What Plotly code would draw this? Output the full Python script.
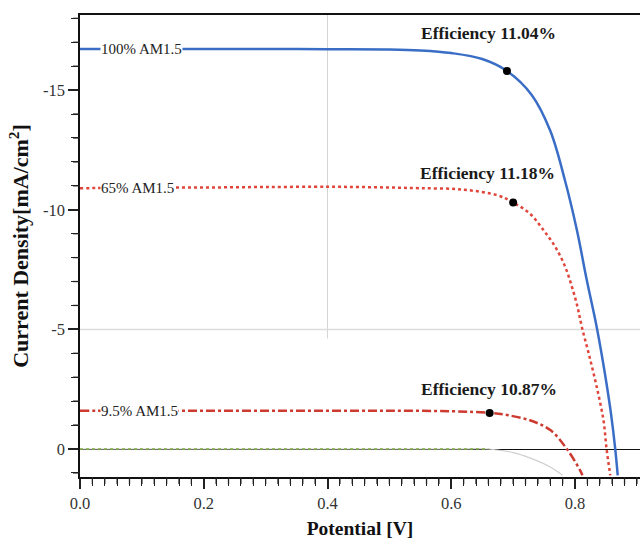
import plotly.graph_objects as go
import numpy as np

# ---- data ----
v100 = [0.0, 0.1, 0.2, 0.3, 0.4, 0.5, 0.55, 0.6, 0.65, 0.69, 0.73, 0.76, 0.784, 0.803, 0.819, 0.835, 0.848, 0.858, 0.865, 0.869]
j100 = [-16.72, -16.72, -16.72, -16.72, -16.71, -16.7, -16.66, -16.55, -16.3, -15.8, -14.8, -13.3, -11.2, -9.15, -7.06, -5.1, -3.2, -1.5, 0.0, 1.1]

v65 = [0.0, 0.1, 0.2, 0.3, 0.4, 0.45, 0.5, 0.55, 0.616, 0.675, 0.70, 0.727, 0.749, 0.768, 0.784, 0.795, 0.804, 0.811, 0.822, 0.835, 0.846, 0.851, 0.857]
j65 = [-10.9, -10.92, -10.93, -10.95, -10.96, -10.95, -10.93, -10.9, -10.85, -10.6, -10.3, -9.84, -9.15, -8.45, -7.62, -6.78, -5.94, -5.1, -4.0, -2.6, -1.2, 0.0, 1.1]

v95 = [0.0, 0.1, 0.2, 0.3, 0.4, 0.5, 0.6, 0.662, 0.69, 0.727, 0.76, 0.786, 0.808, 0.812]
j95 = [-1.6, -1.6, -1.6, -1.6, -1.6, -1.6, -1.58, -1.51, -1.42, -1.2, -0.79, -0.03, 0.88, 1.1]

v_dark = [0.0, 0.2, 0.4, 0.6, 0.66, 0.70, 0.73, 0.76, 0.78]
j_dark = [0.0, 0.0, 0.0, 0.0, 0.0, 0.15, 0.4, 0.75, 1.1]

curve_labels = ["100% AM1.5", "65% AM1.5", "9.5% AM1.5"]
mpp_v = [0.69, 0.70, 0.662]
mpp_j = [-15.8, -10.3, -1.51]
efficiency = ["Efficiency 11.04%", "Efficiency 11.18%", "Efficiency 10.87%"]

x_ticks = [0.0, 0.2, 0.4, 0.6, 0.8]
x_ticktext = ["0.0", "0.2", "0.4", "0.6", "0.8"]
y_ticks = [-15, -10, -5, 0]
y_ticktext = ["-15", "-10", "-5", "0"]

SERIF = "Liberation Serif, Times New Roman, serif"
X_RANGE = [0, 0.905]
Y_RANGE = [1.17, -18.14]

W, H = 640, 540
ML, MR, MT, MB = 80, 0, 15, 63
PW, PH = W - ML - MR, H - MT - MB

fig = go.Figure()

# dark current
fig.add_trace(go.Scatter(x=v_dark, y=j_dark, mode="lines", line_shape="spline",
                         line=dict(color="#cfcfcf", width=1.2), showlegend=False, hoverinfo="skip"))
flat_v = [v for v, j in zip(v_dark, j_dark) if j == 0]
flat_j = [j for j in j_dark if j == 0]
fig.add_trace(go.Scatter(x=flat_v, y=flat_j, mode="lines",
                         line=dict(color="#7fb03a", width=1.5, dash="dot"), showlegend=False))

fig.add_trace(go.Scatter(x=v95, y=j95, mode="lines", line_shape="spline",
                         line=dict(color="#cc3a30", width=2.5, dash="dashdot"), showlegend=False))
fig.add_trace(go.Scatter(x=v65, y=j65, mode="lines", line_shape="spline",
                         line=dict(color="#e0453a", width=2.5, dash="dot"), showlegend=False))
fig.add_trace(go.Scatter(x=v100, y=j100, mode="lines", line_shape="spline",
                         line=dict(color="#3a6ec6", width=2.5), showlegend=False))

fig.add_trace(go.Scatter(x=mpp_v, y=mpp_j, mode="markers",
                         marker=dict(color="black", size=8), showlegend=False))

# curve labels on the left, over the lines
starts = [(v100[0], j100[0]), (v65[0], j65[0]), (v95[0], j95[0])]
for (x0, y0), lab in zip(starts, curve_labels):
    fig.add_annotation(x=x0, y=y0, text=lab, showarrow=False, xanchor="left",
                       xshift=20, bgcolor="white", borderpad=0,
                       font=dict(family=SERIF, size=15, color="#222"))

# efficiency labels above MPP
shifts = [(-18, 38), (-26, 30), (-1, 24)]
for xv, yv, txt, (dx, dy) in zip(mpp_v, mpp_j, efficiency, shifts):
    fig.add_annotation(x=xv, y=yv, text="<b>" + txt + "</b>", showarrow=False,
                       xshift=dx, yshift=dy,
                       font=dict(family=SERIF, size=17.5, color="#1a1a1a"))

# faint grid remnants
fig.add_shape(type="line", xref="x", yref="paper", x0=0.4, x1=0.4, y0=0.3, y1=1,
              line=dict(color="#d4d4d4", width=1), layer="below")
fig.add_shape(type="line", xref="paper", yref="y", x0=0, x1=1, y0=-5, y1=-5,
              line=dict(color="#dcdcdc", width=1.5), layer="below")

# minor tick marks (axis decoration)
minor_x = [round(t, 2) for t in np.arange(0.02, X_RANGE[1], 0.02) if abs(t / 0.2 - round(t / 0.2)) > 1e-6]
minor_y = [t for t in range(-18, 2) if t % 5 != 0]
for t in minor_x:
    fig.add_shape(type="line", xref="x", yref="paper", x0=t, x1=t, y0=0, y1=-7 / PH,
                  line=dict(color="#222", width=1.3), layer="above")
for t in minor_y:
    fig.add_shape(type="line", xref="paper", yref="y", x0=0, x1=-7 / PW, y0=t, y1=t,
                  line=dict(color="#222", width=1.3), layer="above")

fig.update_layout(
    width=W, height=H,
    margin=dict(l=ML, r=MR, t=MT, b=MB),
    plot_bgcolor="white", paper_bgcolor="white",
    font=dict(family=SERIF, size=16.5, color="#333"),
)
fig.update_xaxes(
    range=X_RANGE, tickvals=x_ticks, ticktext=x_ticktext,
    ticks="outside", ticklen=10, tickwidth=1.5, tickcolor="#222",
    minor=dict(tickvals=minor_x, ticks="outside", ticklen=7, tickwidth=1.3, tickcolor="#222"),
    showline=True, linecolor="#111", linewidth=1.5, mirror=True,
    showgrid=False, zeroline=False, automargin=False,
    title=dict(text="<b>Potential [V]</b>", font=dict(family=SERIF, size=19.5, color="#111"), standoff=10),
)
fig.update_yaxes(
    range=Y_RANGE, tickvals=y_ticks, ticktext=y_ticktext,
    ticks="outside", ticklen=10, tickwidth=1.5, tickcolor="#222",
    minor=dict(tickvals=minor_y, ticks="outside", ticklen=7, tickwidth=1.3, tickcolor="#222"),
    showline=True, linecolor="#111", linewidth=1.5,
    showgrid=False, zeroline=True, zerolinecolor="#111", zerolinewidth=1.2, automargin=False,
    title=dict(text="<b>Current Density[mA/cm<sup>2</sup>]</b>", font=dict(family=SERIF, size=22, color="#111"), standoff=8),
)

fig.write_html("out.html", config={"displayModeBar": False},
               post_script="document.body.style.margin='0';document.body.style.overflow='hidden';")
